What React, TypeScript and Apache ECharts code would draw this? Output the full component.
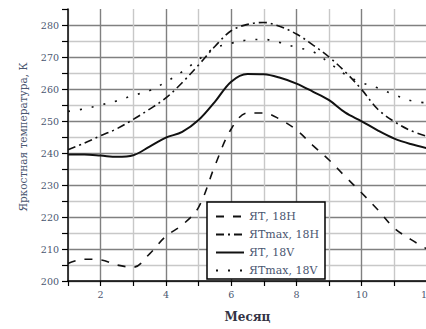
import React, { useEffect, useRef } from "react";
import * as echarts from "echarts";

// Month grid (half-month steps)
const months = [1, 1.5, 2, 2.5, 3, 3.5, 4, 4.5, 5, 5.5, 6, 6.5, 7, 7.5, 8, 8.5, 9, 9.5, 10, 10.5, 11, 11.5, 12];

// Brightness temperature, K
const yt18H = [205.5, 206.8, 206.6, 205, 204.3, 208.5, 214, 217.5, 223, 236, 247.5, 252.5, 252.5, 250.5, 247.2, 242.4, 237.8, 232.6, 227.5, 222.2, 216.5, 213, 210];
const ytMax18H = [241, 243.1, 245.4, 247.6, 250.5, 253.7, 257.2, 262, 267.5, 273.3, 278.2, 280.2, 280.8, 279.5, 277.2, 273.8, 270, 265.3, 259.8, 253.6, 249.8, 247, 245.2];
const yt18V = [239.5, 239.5, 239.2, 238.8, 239.3, 242, 244.8, 246.6, 250.3, 256, 262.3, 264.7, 264.6, 263.5, 261.7, 259.2, 256.5, 252.6, 249.9, 247, 244.5, 242.8, 241.5];
const ytMax18V = [253, 253.8, 255, 256.3, 258, 259.5, 262.2, 265.4, 269.2, 272.8, 274.3, 275.3, 275.5, 274.5, 273, 271.7, 268.2, 264.5, 262, 260.3, 258.2, 256.4, 255.6];

const seriesNames = ["ЯТ, 18H", "ЯТmax, 18H", "ЯТ, 18V", "ЯТmax, 18V"];

const FONT = "DejaVu Serif";
const TEXT = "#4a5670";

const pairs = (vals: number[]) => months.map((m, i) => [m, vals[i]]);

export default function App() {
  const ref = useRef<HTMLDivElement>(null);

  useEffect(() => {
    if (!ref.current) return;
    const chart = echarts.init(ref.current, undefined, { renderer: "svg" });

    const mkSeries = (name: string, vals: number[], type: any, width: number) => ({
      name,
      type: "line",
      data: pairs(vals),
      smooth: 0.35,
      symbol: "none",
      lineStyle: { color: "#111", width, type },
      itemStyle: { color: "#111" },
    });

    chart.setOption({
      animation: false,
      backgroundColor: "#fff",
      grid: { left: 68, right: -1, top: 9, bottom: 48, containLabel: false, outerBoundsMode: "none" },
      xAxis: {
        type: "value",
        min: 1,
        max: 12,
        interval: 1,
        name: "Месяц",
        nameLocation: "middle",
        nameGap: 30,
        nameTextStyle: { fontFamily: FONT, fontSize: 12, fontWeight: "bold", color: "#333344" },
        axisLine: { show: true, lineStyle: { color: "#000", width: 1.5 } },
        axisTick: { show: true, inside: false, length: 5, lineStyle: { color: "#000", width: 1.2 } },
        axisLabel: {
          fontFamily: FONT,
          fontSize: 9.5,
          color: TEXT,
          margin: 8,
          hideOverlap: false,
          formatter: (v: number) => (v % 2 === 0 ? String(v) : ""),
        },
        splitLine: { show: true, lineStyle: { color: ["#c8c8c8", "#808080"], width: 1.4 } },
      },
      yAxis: {
        type: "value",
        min: 200,
        max: 285,
        interval: 5,
        name: "Яркостная температура, К",
        nameLocation: "middle",
        nameGap: 40,
        nameTextStyle: { fontFamily: FONT, fontSize: 10.5, color: TEXT, padding: [0, 0, 0, 16] },
        axisLine: { show: true, lineStyle: { color: "#000", width: 1.5 } },
        axisTick: { show: true, inside: false, length: 6, lineStyle: { color: "#000", width: 1.2 } },
        axisLabel: {
          fontFamily: FONT,
          fontSize: 9.5,
          color: TEXT,
          margin: 9,
          formatter: (v: number) => (v % 10 === 0 && v <= 280 ? String(v) : ""),
        },
        splitLine: { show: true, showMaxLine: false, lineStyle: { color: ["#808080", "#c8c8c8"], width: 1.4 } },
      },
      legend: {
        orient: "vertical",
        left: 207,
        top: 202,
        data: seriesNames,
        backgroundColor: "#fff",
        borderColor: "#000",
        borderWidth: 1.5,
        borderRadius: 0,
        padding: [8, 6, 2, 8],
        itemWidth: 28,
        itemHeight: 10,
        itemGap: 5,
        itemStyle: { opacity: 0 },
        textStyle: { fontFamily: FONT, fontSize: 11, color: TEXT, lineHeight: 13 },
      },
      series: [
        mkSeries(seriesNames[0], yt18H, [8, 9], 1.6),
        mkSeries(seriesNames[1], ytMax18H, [8, 4, 2, 4], 1.6),
        mkSeries(seriesNames[2], yt18V, "solid", 2),
        mkSeries(seriesNames[3], ytMax18V, [2, 10], 1.6),
      ],
    });

    return () => chart.dispose();
  }, []);

  return (
    <div
      ref={ref}
      style={{ position: "fixed", left: 0, top: 0, width: 426, height: 329, background: "#fff" }}
    />
  );
}
